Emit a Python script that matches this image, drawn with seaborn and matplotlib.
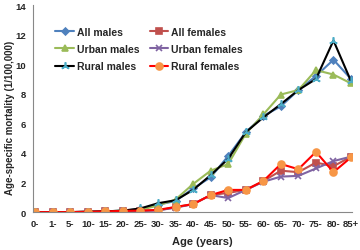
import matplotlib
matplotlib.use('Agg')
import matplotlib.pyplot as plt
import seaborn as sns
import pandas as pd

# 年龄组
ages = ['0-', '1-', '5-', '10-', '15-', '20-', '25-', '30-', '35-', '40-',
        '45-', '50-', '55-', '60-', '65-', '70-', '75-', '80-', '85+']

# 各组死亡率 (1/100,000)
all_males = [0, 0, 0, 0.02, 0.05, 0.1, 0.2, 0.5, 0.75, 1.6,
             2.35, 3.8, 5.4, 6.5, 7.15, 8.25, 9.2, 10.3, 9.0]
all_females = [0, 0, 0, 0.02, 0.05, 0.08, 0.08, 0.12, 0.33, 0.54,
               1.15, 1.3, 1.5, 2.1, 2.8, 2.7, 3.35, 3.1, 3.75]
urban_males = [0, 0, 0, 0.02, 0.05, 0.1, 0.15, 0.45, 0.85, 1.9,
               2.8, 3.25, 5.3, 6.6, 7.95, 8.25, 9.6, 9.3, 8.7]
urban_females = [0, 0, 0, 0.02, 0.05, 0.08, 0.08, 0.12, 0.3, 0.54,
                 1.15, 0.95, 1.5, 2.05, 2.4, 2.45, 2.95, 3.45, 3.75]
rural_males = [0, 0, 0, 0.02, 0.05, 0.1, 0.25, 0.6, 0.8, 1.5,
               2.5, 3.6, 5.4, 6.4, 7.3, 8.25, 9.0, 11.6, 8.85]
rural_females = [0, 0, 0, 0.02, 0.05, 0.08, 0.1, 0.15, 0.35, 0.54,
                 1.15, 1.5, 1.5, 2.1, 3.25, 2.9, 4.07, 2.7, 3.7]

series = [
    ('All males', all_males, '#4F81BD', '#4F81BD', 'D', 3.5),
    ('All females', all_females, '#C0504D', '#C0504D', 's', 4),
    ('Urban males', urban_males, '#9BBB59', '#9BBB59', '^', 5),
    ('Urban females', urban_females, '#8064A2', '#8064A2', 'x', 4.5),
    ('Rural males', rural_males, '#000000', '#4BACC6', (3, 2, 0), 6),
    ('Rural females', rural_females, '#FF0000', '#F79646', 'o', 5),
]

df = pd.DataFrame({'x': range(len(ages))})

sns.set_style('white')
plt.rcParams['font.family'] = ['Liberation Sans', 'DejaVu Sans']

fig = plt.figure(figsize=(3.6, 2.51), dpi=100)
ax = fig.add_axes([0.092, 0.151, 0.886, 0.825])

for name, vals, lc, mc, mk, ms in series:
    sns.lineplot(x=df['x'], y=vals, ax=ax, color=lc, marker=mk, markersize=ms,
                 markerfacecolor=mc, markeredgecolor=mc, markeredgewidth=1.2,
                 linewidth=1.5, label=name)

ax.set_xlim(-0.12, 18.06)
ax.set_ylim(0, 14)
ax.set_yticks(range(0, 15, 2))
ax.set_xticks(range(len(ages)))
ax.set_xticklabels(ages)
for lab in ax.get_xticklabels() + ax.get_yticklabels():
    lab.set_fontweight('bold')
    lab.set_fontsize(6.8)
ax.tick_params(axis='y', length=3, width=0.8, color='#888888', pad=2)
ax.tick_params(axis='x', length=0, pad=5)

sns.despine(ax=ax)
for sp in ['left', 'bottom']:
    ax.spines[sp].set_color('#888888')
    ax.spines[sp].set_linewidth(0.8)

ax.set_xlabel('Age (years)', fontsize=8, fontweight='bold')
ax.set_ylabel('Age-specific mortality (1/100,000)', fontsize=7,
              fontweight='bold')
ax.xaxis.set_label_coords(0.53, -0.115)
ax.yaxis.set_label_coords(-0.058, 0.46)

# 图例按行排列
h, l = ax.get_legend_handles_labels()
order = [0, 2, 4, 1, 3, 5]
ax.legend([h[i] for i in order], [l[i] for i in order], ncol=2,
          loc='upper left', bbox_to_anchor=(0.04, 0.94), frameon=False,
          prop={'weight': 'bold', 'size': 7.5}, handlelength=1.8,
          columnspacing=1.0, labelspacing=0.7, handletextpad=0.25)

plt.savefig('out.png', dpi=100)
plt.close()
